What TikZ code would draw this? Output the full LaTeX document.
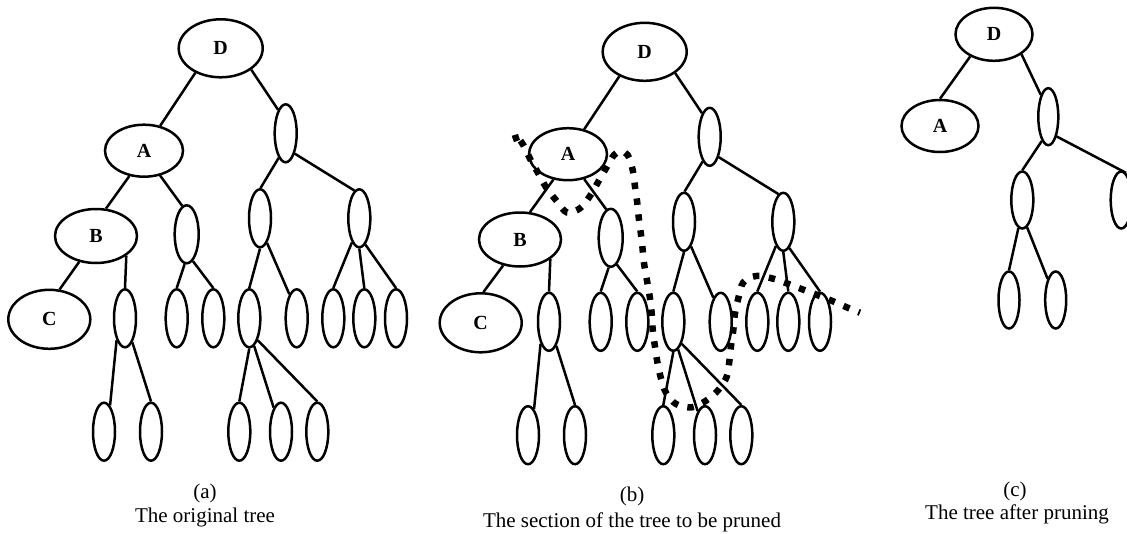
\documentclass[tikz,border=0pt]{standalone}
\usepackage{fontspec}
\setmainfont{Liberation Serif}
\usetikzlibrary{shapes.geometric}

\tikzset{
  link/.style={line width=2.5pt},
  lab/.style={ellipse, draw, line width=2.5pt, inner sep=0pt,
    font=\bfseries\fontsize{20}{20}\selectfont},
  leaf/.style={ellipse, draw, line width=2.5pt, inner sep=0pt,
    minimum width=22pt, minimum height=58pt},
  captext/.style={inner sep=0pt, font=\fontsize{21}{24}\selectfont},
  prune/.style={line width=6.5pt, dash pattern=on 6.5pt off 9.5pt}
}

% full tree; #1 = name prefix, #2 = x of node C, #3 = angle where B-C meets C
\newcommand\fulltree[3]{%
  \node[lab, minimum width=84pt, minimum height=58pt] (#1D) at (220.7,48.3) {D};
  \node[lab, minimum width=78pt, minimum height=52pt] (#1A) at (144,150.7) {A};
  \node[lab, minimum width=82pt, minimum height=54pt] (#1B) at (96,236) {B};
  \node[lab, minimum width=82pt, minimum height=59pt] (#1C) at (#2,319.3) {C};
  \node[leaf] (#1R)   at (285.7,133.3) {};
  \node[leaf, minimum width=24pt] (#1AR)  at (186.7,234.3) {};
  \node[leaf] (#1RL)  at (260,218.3) {};
  \node[leaf] (#1RR)  at (359.3,218.3) {};
  \node[leaf] (#1BR)  at (125,318.3) {};
  \node[leaf] (#1ARL) at (176.7,318.3) {};
  \node[leaf] (#1ARR) at (213.3,318.3) {};
  \node[leaf] (#1RLL) at (249.3,318.3) {};
  \node[leaf] (#1RLR) at (296.7,318.3) {};
  \node[leaf] (#1RRa) at (333.3,318.3) {};
  \node[leaf] (#1RRb) at (364.3,318.3) {};
  \node[leaf] (#1RRc) at (396,318.3) {};
  \node[leaf] (#1La)  at (104,431.7) {};
  \node[leaf] (#1Lb)  at (151,431.7) {};
  \node[leaf] (#1Lc)  at (239.3,431.7) {};
  \node[leaf] (#1Ld)  at (281,431.7) {};
  \node[leaf] (#1Le)  at (317.3,431.7) {};
  \draw[link] (#1D.224) -- (#1A.57);
  \draw[link] (#1D.325) -- (#1R.108);
  \draw[link] (#1A.240) -- (#1B.70);
  \draw[link] (#1A.303) -- (#1AR.99);
  \draw[link] (#1R.254) -- (#1RL.89);
  \draw[link] (#1R.294) -- (#1RR.100);
  \draw[link] (#1B.237) -- (#1C.#3);
  \draw[link] (#1B.327) -- (#1BR.90);
  \draw[link] (#1AR.266) -- (#1ARL.90);
  \draw[link] (#1AR.283) -- (#1ARR.90);
  \draw[link] (#1RL.270) -- (#1RLL.90);
  \draw[link] (#1RL.286) -- (#1RLR.107);
  \draw[link] (#1RR.253) -- (#1RRa.90);
  \draw[link] (#1RR.270) -- (#1RRb.90);
  \draw[link] (#1RR.283) -- (#1RRc.90);
  \draw[link] (#1BR.249) -- (#1La.77);
  \draw[link] (#1BR.287) -- (#1Lb.90);
  \draw[link] (#1RLL.270) -- (#1Lc.90);
  \draw[link] (#1RLL.280) -- (#1Ld.107);
  \draw[link] (#1RLL.291) -- (#1Le.90);
}

\begin{document}
\begin{tikzpicture}[x=1pt, y=-1pt]
\useasboundingbox (0,0) rectangle (1127,533);

% (a) the original tree
\fulltree{a}{49.3}{71}
\node[captext] (capa)  at (205,493) {(a)};
\node[captext] (capat) at (205,517) {The original tree};

% (b) the same tree with the cut line
\begin{scope}[shift={(424,3.5)}]
  \fulltree{b}{56.7}{85}
\end{scope}
\draw[prune] plot[smooth, tension=0.55] coordinates {
  (517,141) (515,134) (523.3,145) (531,160.7) (538.3,173.3) (546.7,188.3)
  (556.7,201) (567,212.5) (580,208.3) (590,196) (598.3,181.7)
  (606,168.3) (614,155) (621,151.5) (627.7,155) (632.7,170)
  (635,186.7) (637.3,203.3) (639,220) (641.7,240) (644,263)
  (647.3,282.3) (650,298.3) (651.7,313.3) (652.7,330) (655,346.7)
  (657.3,361.7) (660.7,377.3) (666,392.7) (676,404) (691.7,407.3)
  (706,400.7) (718.3,390) (726.7,376.7) (729.3,361.7) (731,346)
  (733.3,330) (735,313.3) (738.3,298.3) (743.3,282.3) (756,276)
  (771.7,278.3) (786.7,283.3) (802.3,289.3) (817.3,295)
  (831.7,300.7) (846.7,307.3) (860,312.7)};
\node[captext] (capb)  at (632,496.7) {(b)};
\node[captext] (capbt) at (632,522.7) {The section of the tree to be pruned};

% (c) the tree after pruning
\node[lab, minimum width=77pt, minimum height=53pt] (cD) at (994,34.3) {D};
\node[lab, minimum width=77pt, minimum height=52pt] (cA) at (940,126) {A};
\node[leaf, minimum width=20pt, minimum height=57pt] (cR)  at (1048.3,116.7) {};
\node[leaf, minimum width=22pt, minimum height=57pt] (cRL) at (1022.3,200) {};
\node[leaf, minimum width=21pt, minimum height=57pt] (cRR) at (1121.2,200) {};
\node[leaf, minimum width=21pt, minimum height=57pt] (cLa) at (1009,300) {};
\node[leaf, minimum width=21pt, minimum height=57pt] (cLb) at (1055.7,300) {};
\draw[link] (cD.223) -- (cA.90);
\draw[link] (cD.324) -- (cR.109);
\draw[link] (cR.255) -- (cRL.90);
\draw[link] (cR.293) -- (cRR.80);
\draw[link] (cRL.262) -- (cLa.90);
\draw[link] (cRL.280) -- (cLb.111);
\node[captext] (capc)  at (1015,491) {(c)};
\node[captext] (capct) at (1017,514) {The tree after pruning};
\end{tikzpicture}
\end{document}
